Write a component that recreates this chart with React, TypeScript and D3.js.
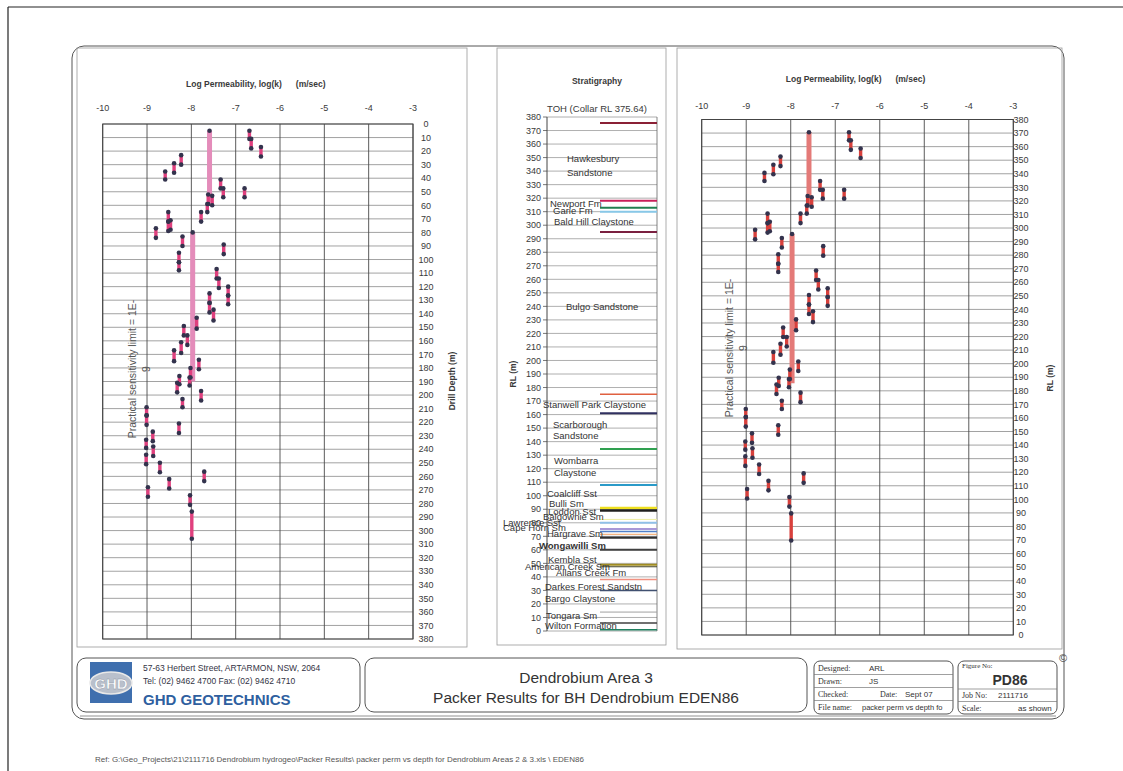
import React from "react";
import * as d3 from "d3";

// ---------- DATA ----------
const COLLAR_RL = 375.64;

// packer tests: log permeability and test interval (drill depth, m)
const testLogK = [
  -6.69, -6.65, -6.43, -8.23, -8.39, -8.59, -7.34, -7.28, -6.8, -7.62,
  -7.53, -7.64, -7.78, -8.52, -8.52, -8.47, -8.8, -8.2, -7.27, -8.28,
  -8.28, -7.43, -7.38, -7.17, -7.17, -7.59, -7.59, -7.5, -7.88, -8.17,
  -8.09, -8.23, -8.39, -7.83, -8.02, -8.04, -8.27, -8.32, -7.78, -8.2,
  -9.01, -9.01, -8.28, -8.87, -9.02, -8.86, -9.02, -8.71, -7.71, -8.5,
  -8.98, -8.03, -7.99,
];
const testTopDepth = [
  5, 11, 17, 23, 29, 35, 41, 47.5, 47.5, 52,
  53, 59, 65, 65, 72, 71, 77, 83, 89, 95,
  102, 107, 114, 120, 126.5, 125, 132, 137, 143, 149,
  156, 161, 167, 174, 180, 187, 186, 191, 197, 203,
  209, 215, 221, 227, 233, 238, 244, 250, 256.5, 262,
  268, 274, 286,
];
const testBottomDepth = [
  11, 18, 24, 30, 36, 41, 47.5, 54, 54, 59,
  60, 65, 72, 72, 79, 78, 84, 90, 96, 102,
  108, 114, 121, 126.5, 133, 132, 139, 145, 151, 156,
  163, 169, 175, 181, 187, 193, 192, 198, 204, 209,
  215, 222, 228, 234, 239, 245, 251, 257, 263.5, 269,
  275, 281, 306,
];

// unit average bars
const avgLogK = [-7.59, -7.97];
const avgTopDepth = [5, 80];
const avgBottomDepth = [58, 190];

// axis ticks
const logKTicks = [-10, -9, -8, -7, -6, -5, -4, -3];
const depthTicks = d3.range(0, 381, 10);
const rlTicks = d3.range(0, 381, 10);

// stratigraphy boundaries (RL m)
const boundaryRL = [375.64, 318, 313, 310, 295, 175, 161, 134.5, 108, 91, 89, 82.5, 80, 75.5, 73.5, 71.5, 69, 60, 49, 47.5, 38, 30, 14, 6, 1];
const boundaryColor = ["#8a2035", "#c8205a", "#208050", "#88c8e8", "#7a2040", "#e06040", "#303060", "#30a050", "#2a9ac8", "#efe020", "#202020", "#eeeea0", "#90c0e8", "#a898d8", "#5080c8", "#f0a060", "#303030", "#404040", "#a08c20", "#404020", "#f09080", "#405070", "#a0a0a0", "#404040", "#208060"];
const boundaryWidth = [2, 2, 2, 2, 2, 1.6, 2, 2, 2, 2.5, 2.5, 1, 2, 2, 1.5, 1, 2.2, 2, 2, 1, 1.5, 1.5, 1, 1.5, 1.5];

const formationNames = [
  "Hawkesbury", "Sandstone", "Newport Fm", "Garie Fm", "Bald Hill Claystone",
  "Bulgo Sandstone", "Stanwell Park Claystone", "Scarborough", "Sandstone",
  "Wombarra", "Claystone", "Coalcliff Sst", "Bulli Sm", "Loddon Sst",
  "Balgownie Sm", "Lawrence Sst", "Cape Horn Sm", "Hargrave Sm",
  "Wongawilli Sm", "Kembla Sst", "American Creek Sm", "Allans Creek Fm",
  "Darkes Forest Sandstn", "Bargo Claystone", "Tongara Sm", "Wilton Formation",
];
const formationLabelRL = [
  349, 339.3, 316.4, 310.7, 302.4, 239.6, 167.1, 153, 144.2, 126, 117,
  101.3, 93.9, 88.7, 84.5, 80, 76.4, 72.2, 63, 52.5, 47.5, 43.4, 32.8,
  23.7, 11.3, 3.9,
];
// label x positions (style)
const formationLabelX = [
  567, 567, 550, 553, 554, 566, 543, 553, 553, 554, 554, 547, 549, 548,
  543, 503, 503, 547, 539, 548, 525, 556, 545, 545, 546, 545,
];

// ---------- LAYOUT ----------
const FONT = "Arial, 'Liberation Sans', Helvetica, sans-serif";
const TXT = "#3a3a3a";

const xL = d3.scaleLinear().domain([-10, -3]).range([102.7, 413]);
const yL = d3.scaleLinear().domain([0, 380]).range([124, 639]);
const xR = d3.scaleLinear().domain([-10, -3]).range([701.7, 1013.3]);
const yR = d3.scaleLinear().domain([0, 380]).range([635, 119.5]);
const yS = d3.scaleLinear().domain([0, 380]).range([631, 117]);

type PanelProps = {
  x: d3.ScaleLinear<number, number>;
  y: d3.ScaleLinear<number, number>;
  ticks: number[];
  toY: (d: number) => number;
  segColor: string;
  barColor: string;
  tickLabelX: number;
  tickLabelY: number;
  titleY: number;
  axisTitle: string;
  axisTitleX: number;
  axisTitleY: number;
  noteX: number;
  noteY: number;
};

function Panel(p: PanelProps) {
  const [x0, x1] = p.x.range();
  const yr = p.y.range();
  const yTop = Math.min(yr[0], yr[1]);
  const yBot = Math.max(yr[0], yr[1]);
  const cx = (x0 + x1) / 2;
  return (
    <g>
      <text x={cx - 2} y={p.titleY} textAnchor="middle" fontFamily={FONT} fontSize={8.5} fontWeight="bold" fill={TXT}>
        Log Permeability, log(k)
        <tspan dx={14}>(m/sec)</tspan>
      </text>
      {logKTicks.map((t) => (
        <text key={"kt" + t} x={p.x(t)} y={p.tickLabelY} textAnchor="middle" fontFamily={FONT} fontSize={9} fill={TXT}>
          {t}
        </text>
      ))}
      {p.ticks.map((t) => (
        <line key={"hg" + t} x1={x0} x2={x1} y1={p.y(t)} y2={p.y(t)} stroke="#8a8a8a" strokeWidth={0.8} />
      ))}
      {logKTicks.map((t) => (
        <line key={"vg" + t} x1={p.x(t)} x2={p.x(t)} y1={yTop} y2={yBot} stroke="#4a4a4a" strokeWidth={0.9} />
      ))}
      <rect x={x0} y={yTop} width={x1 - x0} height={yBot - yTop} fill="none" stroke="#444" strokeWidth={1} />
      {p.ticks.map((t) => (
        <text key={"yt" + t} x={p.tickLabelX} y={p.y(t) + 3.2} textAnchor="middle" fontFamily={FONT} fontSize={9} fill={TXT}>
          {t}
        </text>
      ))}
      <text transform={`translate(${p.axisTitleX},${p.axisTitleY}) rotate(-90)`} textAnchor="middle" fontFamily={FONT} fontSize={8.5} fontWeight="bold" fill={TXT}>
        {p.axisTitle}
      </text>
      <text transform={`translate(${p.noteX},${p.noteY}) rotate(-90)`} textAnchor="middle" fontFamily={FONT} fontSize={10.5} fill="#555">
        Practical sensitivity limit = 1E-
      </text>
      <text transform={`translate(${p.noteX + 14},${p.noteY}) rotate(-90)`} textAnchor="middle" fontFamily={FONT} fontSize={10.5} fill="#555">
        9
      </text>
      {avgLogK.map((k, i) => (
        <line key={"bar" + i} x1={p.x(k)} x2={p.x(k)} y1={p.toY(avgTopDepth[i])} y2={p.toY(avgBottomDepth[i])} stroke={p.barColor} strokeWidth={5} />
      ))}
      {testLogK.map((k, i) => (
        <line key={"seg" + i} x1={p.x(k)} x2={p.x(k)} y1={p.toY(testTopDepth[i])} y2={p.toY(testBottomDepth[i])} stroke={p.segColor} strokeWidth={3.4} />
      ))}
      {avgLogK.map((k, i) => (
        <circle key={"bm" + i} cx={p.x(k)} cy={p.toY(avgTopDepth[i])} r={2.3} fill="#33334d" />
      ))}
      {testLogK.map((k, i) => (
        <g key={"mk" + i}>
          <circle cx={p.x(k)} cy={p.toY(testTopDepth[i])} r={2.3} fill="#33334d" />
          <circle cx={p.x(k)} cy={p.toY(testBottomDepth[i])} r={2.3} fill="#33334d" />
        </g>
      ))}
    </g>
  );
}

function Strat() {
  const xa = 547;
  const xb = 657;
  const lineStart = 600;
  return (
    <g>
      <text x={597} y={84} textAnchor="middle" fontFamily={FONT} fontSize={8.5} fontWeight="bold" fill={TXT}>
        Stratigraphy
      </text>
      <text x={597} y={112} textAnchor="middle" fontFamily={FONT} fontSize={9.5} fill={TXT}>
        TOH (Collar RL 375.64)
      </text>
      {rlTicks.map((t) => (
        <line key={"sg" + t} x1={xa} x2={xb} y1={yS(t)} y2={yS(t)} stroke="#9a9a9a" strokeWidth={0.8} />
      ))}
      {rlTicks.map((t) => (
        <line key={"st" + t} x1={xa - 4} x2={xa} y1={yS(t)} y2={yS(t)} stroke="#555" strokeWidth={0.8} />
      ))}
      <line x1={xa} x2={xa} y1={yS(380)} y2={yS(0)} stroke="#444" strokeWidth={1} />
      <line x1={xb} x2={xb} y1={yS(380)} y2={yS(0)} stroke="#666" strokeWidth={0.8} />
      {rlTicks.map((t) => (
        <text key={"sl" + t} x={541} y={yS(t) + 3.2} textAnchor="end" fontFamily={FONT} fontSize={9} fill={TXT}>
          {t}
        </text>
      ))}
      <text transform={`translate(${516},${374}) rotate(-90)`} textAnchor="middle" fontFamily={FONT} fontSize={8.5} fontWeight="bold" fill={TXT}>
        RL (m)
      </text>
      {boundaryRL.map((rl, i) => (
        <line key={"bd" + i} x1={lineStart} x2={xb} y1={yS(rl)} y2={yS(rl)} stroke={boundaryColor[i]} strokeWidth={boundaryWidth[i]} />
      ))}
      {formationNames.map((n, i) => (
        <text
          key={"fn" + i}
          x={formationLabelX[i]}
          y={yS(formationLabelRL[i]) + 3.5}
          fontFamily={FONT}
          fontSize={9.5}
          fontWeight={n === "Wongawilli Sm" ? "bold" : "normal"}
          fill="#333"
        >
          {n}
        </text>
      ))}
    </g>
  );
}

function TitleBlock() {
  const serif = "'Liberation Serif', 'DejaVu Serif', serif";
  return (
    <g>
      {/* GHD box */}
      <rect x={77} y={658} width={283} height={54} rx={9} fill="none" stroke="#555" strokeWidth={1} />
      <rect x={90} y={662} width={42} height={41} fill="#3f6fae" />
      <ellipse cx={111} cy={683} rx={21} ry={11} fill="#b9c0cc" stroke="#e8e8e8" strokeWidth={1.5} />
      <text x={111} y={688.5} textAnchor="middle" fontFamily={FONT} fontWeight="bold" fontSize={15} fill="#fff" stroke="#8a93a3" strokeWidth={0.4}>
        GHD
      </text>
      <text x={143} y={671} fontFamily={FONT} fontSize={8.5} fill="#334">
        57-63 Herbert Street, ARTARMON, NSW, 2064
      </text>
      <text x={143} y={684} fontFamily={FONT} fontSize={8.5} fill="#334">
        Tel:  (02) 9462 4700   Fax: (02) 9462 4710
      </text>
      <text x={143} y={705} fontFamily={FONT} fontSize={15} fontWeight="bold" fill="#2f5f9f">
        GHD GEOTECHNICS
      </text>

      {/* Title box */}
      <rect x={365} y={658} width={442} height={54} rx={9} fill="none" stroke="#555" strokeWidth={1} />
      <text x={586} y={683} textAnchor="middle" fontFamily={FONT} fontSize={15.5} fill="#333">
        Dendrobium Area 3
      </text>
      <text x={586} y={703} textAnchor="middle" fontFamily={FONT} fontSize={15.5} fill="#333">
        Packer Results for BH Dendrobium EDEN86
      </text>

      {/* Designed box */}
      <rect x={814} y={661} width={139} height={53} rx={6} fill="none" stroke="#555" strokeWidth={1} />
      {[674.5, 687.5, 700.5].map((y) => (
        <line key={"dl" + y} x1={814} x2={953} y1={y} y2={y} stroke="#777" strokeWidth={0.7} />
      ))}
      <text x={818} y={671} fontFamily={serif} fontSize={8} fill="#333">Designed:</text>
      <text x={869} y={671} fontFamily={FONT} fontSize={8} fill="#333">ARL</text>
      <text x={818} y={684} fontFamily={serif} fontSize={8} fill="#333">Drawn:</text>
      <text x={869} y={684} fontFamily={FONT} fontSize={8} fill="#333">JS</text>
      <text x={818} y={697} fontFamily={serif} fontSize={8} fill="#333">Checked:</text>
      <text x={880} y={697} fontFamily={serif} fontSize={8} fill="#333">Date:</text>
      <text x={905} y={697} fontFamily={FONT} fontSize={8} fill="#333">Sept 07</text>
      <text x={818} y={710} fontFamily={serif} fontSize={8} fill="#333">File name:</text>
      <text x={862} y={710} fontFamily={FONT} fontSize={7.5} fill="#333">packer perm vs depth fo</text>

      {/* Figure box */}
      <rect x={958} y={661} width={99} height={53} rx={6} fill="none" stroke="#555" strokeWidth={1} />
      <line x1={958} x2={1057} y1={689} y2={689} stroke="#777" strokeWidth={0.7} />
      <line x1={958} x2={1057} y1={701.5} y2={701.5} stroke="#777" strokeWidth={0.7} />
      <text x={962} y={668} fontFamily={serif} fontSize={7} fill="#333">Figure No:</text>
      <text x={1010} y={685} textAnchor="middle" fontFamily={FONT} fontSize={14} fontWeight="bold" fill="#333">PD86</text>
      <text x={962} y={698} fontFamily={serif} fontSize={8} fill="#333">Job No:</text>
      <text x={998} y={698} fontFamily={FONT} fontSize={8} fill="#333">2111716</text>
      <text x={962} y={711} fontFamily={serif} fontSize={8} fill="#333">Scale:</text>
      <text x={1018} y={711} fontFamily={FONT} fontSize={8} fill="#333">as shown</text>
      <text x={1063} y={662} textAnchor="middle" fontFamily={FONT} fontSize={11} fill="#444">©</text>
    </g>
  );
}

export default function App() {
  return (
    <svg
      width={1123}
      height={771}
      viewBox="0 0 1123 771"
      style={{ position: "absolute", left: 0, top: 0, background: "#fff" }}
    >
      <rect x={0} y={0} width={1123} height={771} fill="#fff" />
      {/* scan edge */}
      <line x1={8} x2={1123} y1={7} y2={7} stroke="#222" strokeWidth={1.2} />
      <line x1={8} x2={8} y1={7} y2={771} stroke="#222" strokeWidth={1.2} />
      {/* outer drawing border */}
      <rect x={72} y={46} width={992} height={673} rx={12} fill="none" stroke="#555" strokeWidth={1} />
      <line x1={80} x2={1056} y1={716} y2={716} stroke="#777" strokeWidth={0.8} />
      {/* panel frames */}
      <rect x={77} y={48} width={390} height={599} fill="none" stroke="#999" strokeWidth={0.8} />
      <rect x={497} y={48} width={169} height={597} fill="none" stroke="#999" strokeWidth={0.8} />
      <rect x={677} y={48} width={385} height={601} fill="none" stroke="#999" strokeWidth={0.8} />

      <Panel
        x={xL}
        y={yL}
        ticks={depthTicks}
        toY={(d) => yL(d)}
        segColor="#e0407e"
        barColor="#e48cba"
        tickLabelX={426}
        tickLabelY={111}
        titleY={87}
        axisTitle="Drill Depth (m)"
        axisTitleX={455}
        axisTitleY={381}
        noteX={136}
        noteY={369}
      />
      <Strat />
      <Panel
        x={xR}
        y={yR}
        ticks={rlTicks}
        toY={(d) => yR(COLLAR_RL - d)}
        segColor="#d8403c"
        barColor="#e47a78"
        tickLabelX={1021}
        tickLabelY={109}
        titleY={82}
        axisTitle="RL (m)"
        axisTitleX={1053}
        axisTitleY={378}
        noteX={733}
        noteY={348}
      />
      <TitleBlock />
      <text x={95} y={762} fontFamily={FONT} fontSize={8} fill="#555">
        Ref: G:\Geo_Projects\21\2111716 Dendrobium hydrogeo\Packer Results\ packer perm vs depth for Dendrobium Areas 2 &amp; 3.xls \ EDEN86
      </text>
    </svg>
  );
}
